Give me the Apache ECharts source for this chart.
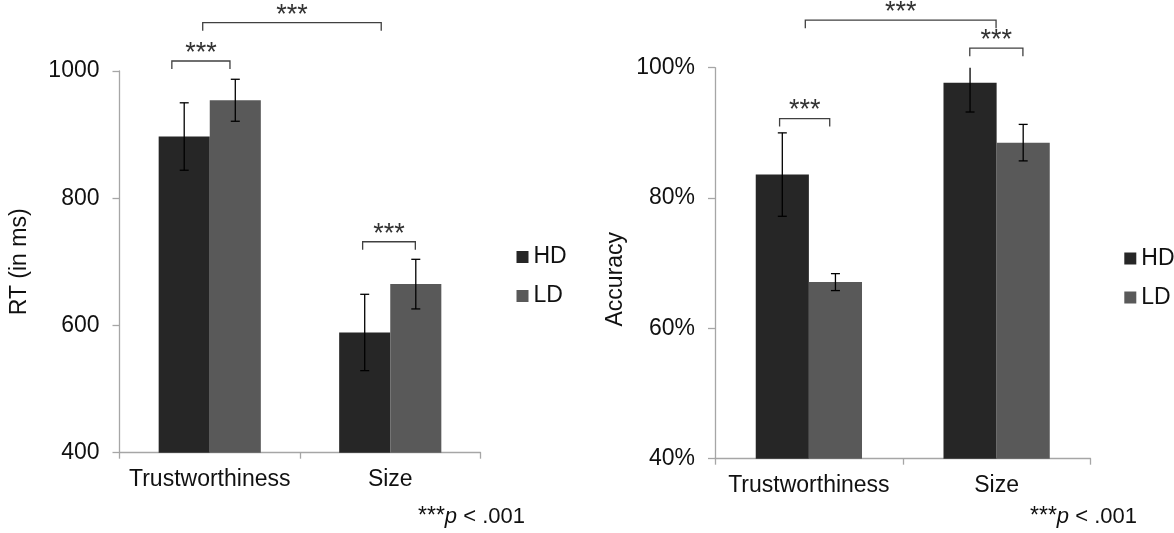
<!DOCTYPE html>
<html><head><meta charset="utf-8">
<script src="https://cdn.jsdelivr.net/npm/echarts@6/dist/echarts.min.js"></script>
<style>html,body{margin:0;padding:0;background:#fff}#c{width:1174px;height:533px}</style>
</head><body><div id="c"></div>
<script>
// ---------- data ----------
const categories = ['Trustworthiness', 'Size'];
const groupNames = ['HD', 'LD'];

// RT (in ms)
const rtHD = [897, 589];
const rtLD = [954, 665];
const rtHDErr = [53, 60];
const rtLDErr = [33, 39];
const rtMin = 400, rtMax = 1000, rtStep = 200;

// Accuracy (%)
const accHD = [83.6, 97.7];
const accLD = [67.1, 88.5];
const accHDErr = [6.4, 4.5];
const accLDErr = [1.3, 2.8];
const accMin = 40, accMax = 100, accStep = 20;

// significance brackets: [start, end, level]; start/end in category units (0 = Trustworthiness, 1 = Size)
const rtBrackets = [[-0.21, 0.112, 1015.7], [-0.039, 0.95, 1076], [0.847, 1.139, 731.6]];
const accBrackets = [[-0.156, 0.111, 92.2], [-0.019, 0.997, 107.3], [0.857, 1.14, 103]];
const sigText = '***';
const footnote = ['***', 'p', ' < .001'];

// ---------- style ----------
const FONT = '"Liberation Sans", Arial, sans-serif';
const FS = 23;
const C_HD = '#262626', C_LD = '#595959', C_AXIS = '#a6a6a6', C_TXT = '#111';
const BAR_FRAC = 0.283;

function errItem(sign, axisMax) {
  return function (params, api) {
    const i = api.value(0), m = api.value(1), e = api.value(2);
    const band = api.size([1, 0])[0];
    const off = sign * band * BAR_FRAC / 2;
    const clipped = m + e > axisMax;
    const top = api.coord([i, Math.min(m + e, axisMax)]);
    const bot = api.coord([i, m - e]);
    const x = top[0] + off, cw = 4.5;
    const st = { stroke: '#000', lineWidth: 1.3 };
    const ch = [
      { type: 'line', shape: { x1: x, y1: top[1], x2: x, y2: bot[1] }, style: st },
      { type: 'line', shape: { x1: x - cw, y1: bot[1], x2: x + cw, y2: bot[1] }, style: st }
    ];
    if (!clipped) ch.push({ type: 'line', shape: { x1: x - cw, y1: top[1], x2: x + cw, y2: top[1] }, style: st });
    return { type: 'group', children: ch };
  };
}

function bracketItem(params, api) {
  const level = api.value(1), s = api.value(2), e = api.value(3);
  const c0 = api.coord([0, level]), c1 = api.coord([1, level]);
  const w = c1[0] - c0[0];
  const x0 = c0[0] + w * s, x1 = c0[0] + w * e, y = c0[1];
  return {
    type: 'group', children: [
      { type: 'polyline', shape: { points: [[x0, y + 8], [x0, y], [x1, y], [x1, y + 8]] },
        style: { stroke: '#404040', fill: null, lineWidth: 1.3 } },
      { type: 'text', x: (x0 + x1) / 2, y: y + 6,
        style: { text: sigText, align: 'center', verticalAlign: 'bottom', font: '27px ' + FONT, fill: '#333' } }
    ]
  };
}

function yAxis(gi, min, max, step, name, fmt, nameGap, namePad) {
  return {
    type: 'value', gridIndex: gi, min: min, max: max, interval: step,
    name: name, nameLocation: 'middle', nameGap: nameGap,
    nameTextStyle: { fontSize: FS, fontFamily: FONT, color: C_TXT, padding: namePad },
    axisLine: { show: true, lineStyle: { color: C_AXIS, width: 1.3 } },
    axisTick: { show: true, length: 7, lineStyle: { color: C_AXIS, width: 1.3 } },
    splitLine: { show: false },
    axisLabel: { fontSize: FS, fontFamily: FONT, color: C_TXT, margin: 20, formatter: fmt }
  };
}
function xAxis(gi) {
  return {
    type: 'category', gridIndex: gi, data: categories,
    axisLine: { show: true, lineStyle: { color: C_AXIS, width: 1.3 } },
    axisTick: { show: true, length: 6, lineStyle: { color: C_AXIS, width: 1.3 } },
    axisLabel: { fontSize: FS, fontFamily: FONT, color: C_TXT, margin: 15, interval: 0, hideOverlap: false }
  };
}
function legend(left, top) {
  return {
    data: groupNames, orient: 'vertical', left: left, top: top, padding: 0,
    icon: 'rect', itemWidth: 12, itemHeight: 12, itemGap: 16, selectedMode: false,
    textStyle: { fontSize: FS, fontFamily: FONT, color: C_TXT, lineHeight: 23 }
  };
}
function bars(name, data, color, gi) {
  return { name: name, type: 'bar', xAxisIndex: gi, yAxisIndex: gi, data: data,
    barWidth: (BAR_FRAC * 100) + '%', barGap: '0%', itemStyle: { color: color }, silent: true };
}
function errs(vals, errArr, sign, gi, axisMax) {
  return { type: 'custom', xAxisIndex: gi, yAxisIndex: gi, clip: false, silent: true, z: 5,
    renderItem: errItem(sign, axisMax), encode: { x: 0, y: 1 },
    data: vals.map((v, i) => [i, v, errArr[i]]) };
}
function brackets(list, gi) {
  return { type: 'custom', xAxisIndex: gi, yAxisIndex: gi, clip: false, silent: true, z: 6,
    renderItem: bracketItem, encode: { x: 0, y: 1 },
    data: list.map(b => [0, b[2], b[0], b[1]]) };
}
function note(x) {
  return { type: 'text', x: x, y: 505, silent: true,
    style: { text: '{s|' + footnote[0] + '}{p|' + footnote[1] + '}{n|' + footnote[2] + '}',
      verticalAlign: 'top',
      rich: { s: { font: '23px ' + FONT, fill: C_TXT, verticalAlign: 'bottom' },
              p: { font: 'italic 22px ' + FONT, fill: C_TXT },
              n: { font: '22px ' + FONT, fill: C_TXT } } } };
}

const chart = echarts.init(document.getElementById('c'), null, { renderer: 'canvas' });
chart.setOption({
  animation: false,
  backgroundColor: '#fff',
  grid: [
    { left: 119.5, top: 71, width: 361, height: 381.7 },
    { left: 715, top: 67.7, width: 375.5, height: 391 }
  ],
  xAxis: [xAxis(0), xAxis(1)],
  yAxis: [
    yAxis(0, rtMin, rtMax, rtStep, 'RT (in ms)', v => String(v), 88, [0, 0, 0, 0]),
    yAxis(1, accMin, accMax, accStep, 'Accuracy', v => v + '%', 88, [0, 32, 0, 0])
  ],
  legend: [legend(516.5, 245.5), legend(1124.3, 247)],
  graphic: [note(418), note(1030)],
  series: [
    bars('HD', rtHD, C_HD, 0), bars('LD', rtLD, C_LD, 0),
    errs(rtHD, rtHDErr, -1, 0, rtMax), errs(rtLD, rtLDErr, 1, 0, rtMax),
    brackets(rtBrackets, 0),
    bars('HD', accHD, C_HD, 1), bars('LD', accLD, C_LD, 1),
    errs(accHD, accHDErr, -1, 1, accMax), errs(accLD, accLDErr, 1, 1, accMax),
    brackets(accBrackets, 1)
  ]
});
</script></body></html>
